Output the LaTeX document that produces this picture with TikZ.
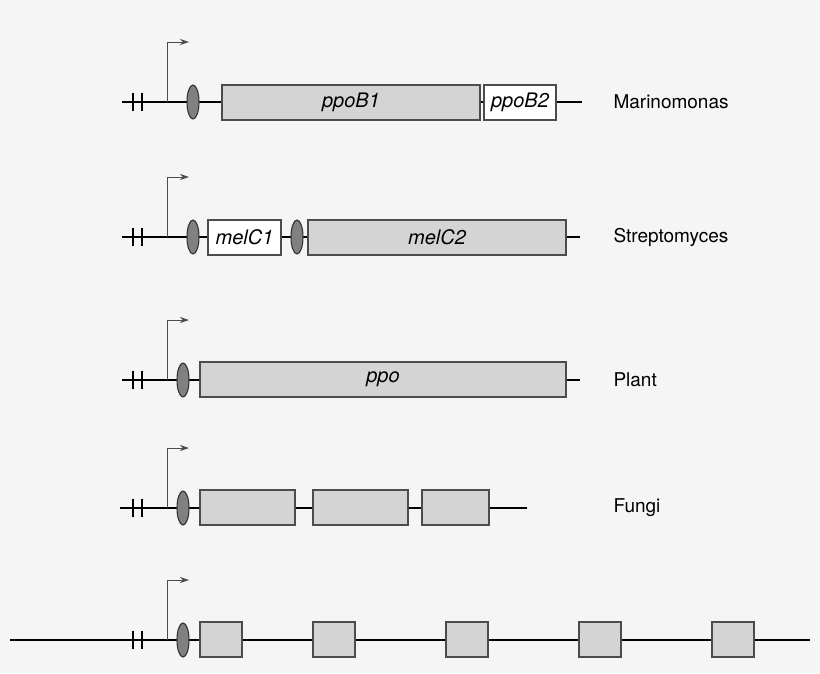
\documentclass[tikz,border=0pt]{standalone}
\usepackage{fontspec}
\setmainfont{TeX Gyre Heros}
\usetikzlibrary{arrows.meta}
\definecolor{genefill}{HTML}{D4D4D4}
\definecolor{ovalfill}{HTML}{808080}
\tikzset{
  gene/.style={draw=black!70, fill=genefill, line width=1.1pt},
  whitegene/.style={draw=black!70, fill=white, line width=1.1pt},
  rbs/.style={draw=black!80, fill=ovalfill, line width=1.1pt},
  dna/.style={line width=2.6pt},
  promo/.style={draw=black!70, line width=1pt, -{Stealth[length=9pt,width=6pt]}},
  genelabel/.style={font=\fontsize{20}{22}\selectfont\itshape},
  species/.style={anchor=west, font=\fontsize{19}{22}\selectfont}
}
% \rowstart{y}{oval x}: breaks, promoter and oval
\newcommand{\rowstart}[2]{
  \draw[dna] (133,#1-9) -- (133,#1+9);
  \draw[dna] (142,#1-9) -- (142,#1+9);
  \draw[promo] (167,#1) -- (167,#1-60) -- (189,#1-60);
  \draw[rbs] (#2,#1) ellipse (6 and 17);
}
\begin{document}
\begin{tikzpicture}[x=1pt,y=-1pt]
  \fill[black!4] (0,0) rectangle (820,673);
  \useasboundingbox (0,0) rectangle (820,673);

  % Marinomonas
  \draw[dna] (122,102) -- (582,102);
  \rowstart{102}{193}
  \draw[gene] (222,85) rectangle node[genelabel] {ppoB1} (480,120);
  \draw[whitegene] (484,85) rectangle node[genelabel] {ppoB2} (556,120);
  \node[species] (marino) at (610,102) {Marinomonas};

  % Streptomyces
  \draw[dna] (122,237) -- (580,237);
  \rowstart{237}{193}
  \draw[whitegene] (208,220) rectangle node[genelabel] {melC1} (281,255);
  \draw[rbs] (297,237) ellipse (6 and 17);
  \draw[gene] (308,220) rectangle node[genelabel] {melC2} (566,255);
  \node[species] (strepto) at (610,237) {Streptomyces};

  % Plant
  \draw[dna] (122,380) -- (580,380);
  \rowstart{380}{183}
  \draw[gene] (200,362) rectangle node[genelabel] {ppo} (566,397);
  \node[species] (plant) at (610,380) {Plant};

  % Fungi
  \draw[dna] (120,508) -- (527,508);
  \rowstart{508}{183}
  \foreach \a/\b in {200/295, 313/408, 422/489}
    \draw[gene] (\a,490) rectangle (\b,525);
  \node[species] (fungi) at (610,508) {Fungi};

  % last row
  \draw[dna] (10,640) -- (810,640);
  \rowstart{640}{183}
  \foreach \a in {200, 313, 446, 579, 712}
    \draw[gene] (\a,622) rectangle (\a+42,657);
\end{tikzpicture}
\end{document}
